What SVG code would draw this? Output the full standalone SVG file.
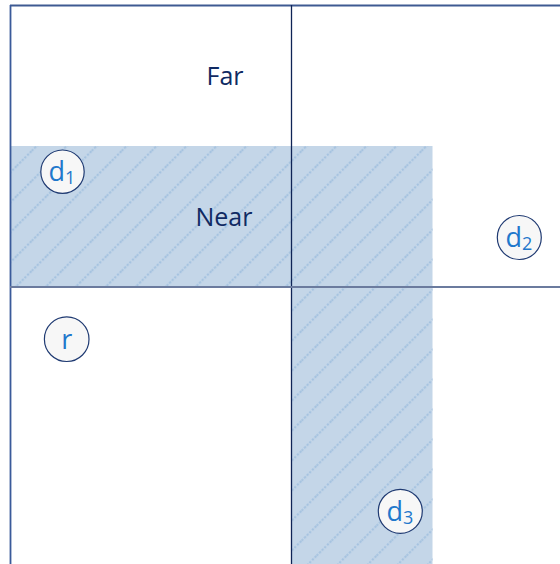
<svg xmlns="http://www.w3.org/2000/svg" width="560" height="564" viewBox="0 0 560 564">
<style>
.lbl{font-family:"Open Sans","Liberation Sans",sans-serif;font-size:25px;fill:#102a63;text-anchor:middle}
.node circle{fill:#f7f7f7;stroke:#1f3a72;stroke-width:1.2}
.node text{font-family:"Open Sans","Liberation Sans",sans-serif;font-size:27px;fill:#1f78cc;text-anchor:middle}
.sub{font-size:18px}
</style>
<defs>
<pattern id="hatch" patternUnits="userSpaceOnUse" width="21.2" height="21.2" patternTransform="rotate(45)">
<line x1="2" y1="0" x2="2" y2="21.2" stroke="#a6c3e0" stroke-width="2.2" stroke-dasharray="2.2 1.5"/>
</pattern>
</defs>
<rect width="560" height="564" fill="#ffffff"/>
<g id="shade">
<path d="M11 146 H432.5 V564 H291.5 V287 H11 Z" fill="#c4d6e8"/>
<path d="M11 146 H432.5 V564 H291.5 V287 H11 Z" fill="url(#hatch)"/>
</g>
<g id="grid">
<line x1="10" y1="5.5" x2="560" y2="5.5" stroke="#3f5a92" stroke-width="1.8"/>
<line x1="10.5" y1="5" x2="10.5" y2="564" stroke="#3a5a9a" stroke-width="1.8"/>
<line x1="291.5" y1="5" x2="291.5" y2="564" stroke="#0f2456" stroke-width="1.3"/>
<line x1="10" y1="287" x2="560" y2="287" stroke="#6b7b9e" stroke-width="2"/>
</g>
<text class="lbl" x="225" y="85">Far</text>
<text class="lbl" x="224" y="226">Near</text>
<g id="d1" class="node">
<circle cx="62.5" cy="171.7" r="21.7"/>
<text x="62" y="181"><tspan>d</tspan><tspan class="sub" dy="3">1</tspan></text>
</g>
<g id="d2" class="node">
<circle cx="519.3" cy="237.5" r="22"/>
<text x="519" y="247"><tspan>d</tspan><tspan class="sub" dy="3">2</tspan></text>
</g>
<g id="d3" class="node">
<circle cx="400.3" cy="511.3" r="22"/>
<text x="400" y="521"><tspan>d</tspan><tspan class="sub" dy="3">3</tspan></text>
</g>
<g id="r" class="node">
<circle cx="66.7" cy="339.2" r="22.3"/>
<text x="66.7" y="349">r</text>
</g>
<g id="connectors"/>
</svg>
